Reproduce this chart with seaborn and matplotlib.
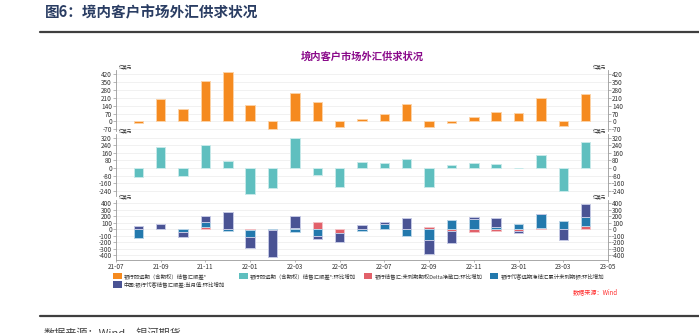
import numpy as np
import pandas as pd
import matplotlib
matplotlib.use("Agg")
import matplotlib.pyplot as plt
import seaborn as sns
from matplotlib.patches import Rectangle

sns.set_style("white")
plt.rcParams['font.family'] = ['Noto Sans CJK SC', 'DejaVu Sans']
plt.rcParams['axes.unicode_minus'] = False

# ---------------- data ----------------
all_months = ['21-07', '21-08', '21-09', '21-10', '21-11', '21-12', '22-01', '22-02', '22-03',
              '22-04', '22-05', '22-06', '22-07', '22-08', '22-09', '22-10', '22-11', '22-12',
              '23-01', '23-02', '23-03', '23-04', '23-05']
months = all_months[1:-1]
tick_labels = all_months[::2]

# 银行即远期（含期权）结售汇顺差*
surplus = [-15, 200, 113, 363, 437, 149, -71, 252, 169, -45, 18,
           65, 158, -50, -10, 36, 83, 78, 211, -42, 241]
# 银行即远期（含期权）结售汇顺差*:环比增加
surplus_chg = [-92, 218, -81, 245, 74, -277, -207, 316, -77, -203, 60,
               53, 95, -203, 35, 53, 46, 5, 133, -245, 277]
# 银行结售汇:未到期期权Delta净敞口:环比增加
delta_chg = [0, 0, 8, 30, 0, -15, 0, 25, 105, -55, 8,
             0, 0, 30, -25, -45, -20, -20, 25, 0, 55]
# 银行代客远期净结汇累计未到期额:环比增加
fwd_chg = [-140, 0, -35, 88, -25, -100, -15, -35, -110, -5, -20,
           85, -100, -160, 145, 155, 30, 80, 215, 125, 140]
# 中国:银行代客结售汇顺差:当月值:环比增加
client_chg = [57, 85, -85, 82, 262, -165, -405, 180, -40, -140, 55,
              35, 180, -215, -185, 30, 150, -40, 0, -160, 190]

legend_labels = ['银行即远期（含期权）结售汇顺差*',
                 '银行即远期（含期权）结售汇顺差*:环比增加',
                 '银行结售汇:未到期期权Delta净敞口:环比增加',
                 '银行代客远期净结汇累计未到期额:环比增加',
                 '中国:银行代客结售汇顺差:当月值:环比增加']

c_orange = '#f58a1f'
c_teal = '#5fbfbf'
c_red = '#e2616a'
c_blue = '#2379ad'
c_navy = '#4a5394'

W, H = 699, 333
fig = plt.figure(figsize=(W / 100, H / 100), dpi=100)

def px_axes(x0, y0, x1, y1):
    return fig.add_axes([x0 / W, 1 - y1 / H, (x1 - x0) / W, (y1 - y0) / H])

x_left, x_right = 116, 608
ax1 = px_axes(x_left, 70, x_right, 131)
ax2 = px_axes(x_left, 134, x_right, 196)
ax3 = px_axes(x_left, 200, x_right, 260)

bw = 0.42
df1 = pd.DataFrame({'month': months, 'v': surplus})
sns.barplot(data=df1, x='month', y='v', order=all_months, color=c_orange, width=bw,
            saturation=1, edgecolor='#fcd2a6', linewidth=0.7, ax=ax1)
df2 = pd.DataFrame({'month': months, 'v': surplus_chg})
sns.barplot(data=df2, x='month', y='v', order=all_months, color=c_teal, width=bw,
            saturation=1, edgecolor='#c6e9e9', linewidth=0.7, ax=ax2)

# stacked (same-sign stacking)
xpos = np.array([all_months.index(m) for m in months])
pos_b = np.zeros(len(months))
neg_b = np.zeros(len(months))
for vals, col, ec in [(delta_chg, c_red, '#f3c0c4'), (fwd_chg, c_blue, '#b7d3e6'),
                      (client_chg, c_navy, '#c3c7e3')]:
    v = np.array(vals, dtype=float)
    b = np.where(v >= 0, pos_b, neg_b)
    ax3.bar(xpos, v, bottom=b, width=bw, color=col, edgecolor=ec, linewidth=0.7)
    pos_b = pos_b + np.where(v > 0, v, 0)
    neg_b = neg_b + np.where(v < 0, v, 0)

specs = [(ax1, (-85, 458), np.arange(-70, 421, 70)),
         (ax2, (-296, 359), np.arange(-240, 321, 80)),
         (ax3, (-472, 451), np.arange(-400, 401, 100))]
for ax, yl, ticks in specs:
    ax.set_xlim(0, 22)
    ax.set_ylim(*yl)
    ax.set_yticks(ticks)
    ax.set_yticklabels([str(t) for t in ticks])
    ax.set_xlabel('')
    ax.set_ylabel('')
    ax.grid(axis='y', color='#efefef', linewidth=0.6)
    ax.set_axisbelow(True)
    for s in ['top', 'bottom']:
        ax.spines[s].set_visible(False)
    for s in ['left', 'right']:
        ax.spines[s].set_color('#9a9a9a')
        ax.spines[s].set_linewidth(0.6)
    ax.tick_params(axis='y', which='both', left=True, right=True, labelleft=True,
                   labelright=True, length=2, width=0.5, color='#9a9a9a',
                   labelsize=4.6, labelcolor='#333333', pad=1)
    ax.text(0.005, 1.0, '亿美元', transform=ax.transAxes, fontsize=3.2, va='bottom',
            ha='left', color='#333333')
    ax.text(0.995, 1.0, '亿美元', transform=ax.transAxes, fontsize=3.2, va='bottom',
            ha='right', color='#333333')
    if ax is not ax3:
        ax.set_xticks([])

ax3.spines['bottom'].set_visible(True)
ax3.spines['bottom'].set_color('#9a9a9a')
ax3.spines['bottom'].set_linewidth(0.6)
ax3.set_xticks([all_months.index(t) for t in tick_labels])
ax3.set_xticklabels(tick_labels)
ax3.tick_params(axis='x', bottom=True, length=1.5, width=0.5, color='#9a9a9a',
                labelsize=4.6, labelcolor='#333333', pad=0.5)

# titles and decorations
fig.text(45 / W, 1 - 12 / H, '图6：境内客户市场外汇供求状况', fontsize=10.5, fontweight='bold',
         color='#2a3d63', va='center', ha='left')
fig.add_artist(plt.Line2D([40 / W, 1], [1 - 31.7 / H] * 2, color='#3f3f3f', lw=1.6))
fig.add_artist(plt.Line2D([40 / W, 1], [1 - 315.7 / H] * 2, color='#3f3f3f', lw=1.6))
fig.text(362 / W, 1 - 57 / H, '境内客户市场外汇供求状况', fontsize=7.4, fontweight='bold',
         color='#8a0a8a', va='center', ha='center')
fig.text(44 / W, 1 - 333 / H, '数据来源：Wind，银河期货', fontsize=8, color='#444444',
         va='center', ha='left')
fig.text(595 / W, 1 - 292.5 / H, '数据来源：Wind', fontsize=4.4, color='#ff2a2a',
         style='italic', va='center', ha='center')

# legend
leg_items = [(113, 276, c_orange, legend_labels[0]),
             (239, 276, c_teal, legend_labels[1]),
             (364, 276, c_red, legend_labels[2]),
             (490, 276, c_blue, legend_labels[3]),
             (113, 284.5, c_navy, legend_labels[4])]
for x0, yc, col, lab in leg_items:
    fig.add_artist(Rectangle((x0 / W, 1 - (yc + 3.3) / H), 8.5 / W, 6.6 / H,
                             transform=fig.transFigure, color=col, lw=0))
    fig.text((x0 + 10.5) / W, 1 - yc / H, lab, fontsize=3.9, color='#333333',
             va='center', ha='left')

fig.savefig('out.png', dpi=100, facecolor='white')
